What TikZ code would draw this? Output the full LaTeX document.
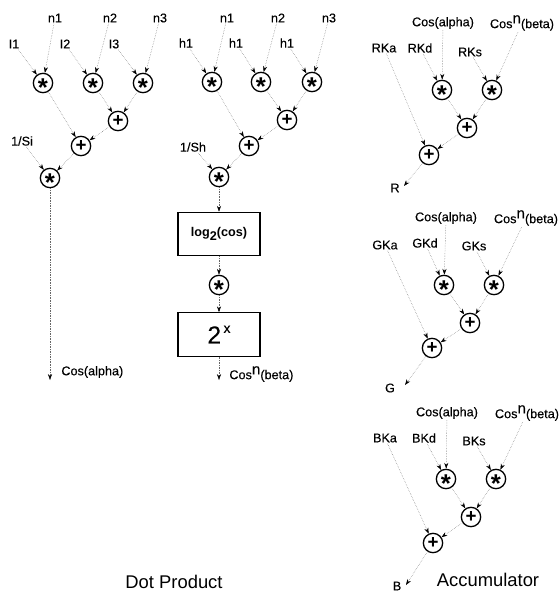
\documentclass[tikz,border=0pt]{standalone}
\usepackage{fontspec}
\setmainfont{Liberation Sans}
\newfontfamily\lblfont[FakeBold=0.2]{Liberation Sans}
\usetikzlibrary{arrows.meta,positioning}
\newcommand{\opstar}{\smash{\raisebox{-0.52em}{*}}}
\newcommand{\cosn}{Cos\raisebox{4pt}{\fontsize{13}{13}\selectfont n}(beta)}

\begin{document}
\begin{tikzpicture}[
			x=0.03cm, y=-0.03cm,
			>={Stealth[length=5pt,width=3.5pt,black]},
			font=\lblfont\fontsize{10.8}{12}\selectfont,
			opnode/.style={
				circle, draw=black, line width=1.1pt, fill=white,
				minimum size=0.58cm, inner sep=0pt,
				font=\normalfont\bfseries\fontsize{16}{16}\selectfont
			},
			starnode/.style={
				opnode,
				font=\normalfont\bfseries\fontsize{22}{22}\selectfont
			},
			boxnode/.style={
				rectangle, draw=black, line width=1.1pt,
				minimum width=2.46cm, minimum height=1.3cm, inner sep=0pt
			},
			lbl/.style={inner sep=1pt},
			title/.style={font=\normalfont\fontsize{15.7}{18}\selectfont},
			arr/.style={->, densely dotted, thin, black!60}
			]
			\useasboundingbox (0,0) rectangle (559,594);
			
			%% -- Dot product, light ------------------------------------------
			\node[lbl] (ln1) at (55,18) {n1};
			\node[lbl] (ln2) at (110,18) {n2};
			\node[lbl] (ln3) at (160,18) {n3};
			\node[lbl] (li1) at (14,44) {I1};
			\node[lbl] (li2) at (65,44) {I2};
			\node[lbl] (li3) at (114,44) {I3};
			\node[lbl] (lsi) at (22,141) {1/Si};
			
			\node[starnode] (ls1) at (43,83) {\opstar};
			\node[starnode] (ls2) at (93,83) {\opstar};
			\node[starnode] (ls3) at (143,83) {\opstar};
			\node[opnode] (lp1) at (118,121) {+};
			\node[opnode] (lp2) at (81,146) {+};
			\node[starnode] (ls4) at (50,178) {\opstar};
			
			\coordinate (lend) at (50,380);
			\node[lbl, anchor=west] (lout) at (60,372) {Cos(alpha)};
			
			\draw[arr] (li1) -- (ls1);
			\draw[arr] (ln1) -- (ls1);
			\draw[arr] (li2) -- (ls2);
			\draw[arr] (ln2) -- (ls2);
			\draw[arr] (li3) -- (ls3);
			\draw[arr] (ln3) -- (ls3);
			\draw[arr] (ls2) -- (lp1);
			\draw[arr] (ls3) -- (lp1);
			\draw[arr] (ls1) -- (lp2);
			\draw[arr] (lp1) -- (lp2);
			\draw[arr] (lsi) -- (ls4);
			\draw[arr] (lp2) -- (ls4);
			\draw[arr] (ls4) -- (lend);
			
			%% -- Dot product, half vector ------------------------------------
			\node[lbl] (hn1) at (227,18) {n1};
			\node[lbl] (hn2) at (278,18) {n2};
			\node[lbl] (hn3) at (329,18) {n3};
			\node[lbl] (hh1) at (186,43) {h1};
			\node[lbl] (hh2) at (236,43) {h1};
			\node[lbl] (hh3) at (287,43) {h1};
			\node[lbl] (hsh) at (193,147) {1/Sh};
			
			\node[starnode] (hs1) at (212,82) {\opstar};
			\node[starnode] (hs2) at (261,82) {\opstar};
			\node[starnode] (hs3) at (312,82) {\opstar};
			\node[opnode] (hp1) at (287,120) {+};
			\node[opnode] (hp2) at (249,146) {+};
			\node[starnode] (hs4) at (219,177) {\opstar};
			
			\node[boxnode, font=\normalfont\bfseries\fontsize{10.8}{12}\selectfont] (log) at (219,234) {log\raisebox{-4pt}{2}(cos)};
			\node[starnode] (hs5) at (219,285) {\opstar};
			\node[boxnode, font=\lblfont\fontsize{21}{21}\selectfont] (pow) at (219,334.5) {2\raisebox{9pt}{\fontsize{12}{12}\selectfont\,x}};
			
			\coordinate (hend) at (219,380);
			\node[lbl, anchor=west] (hout) at (228,374) {\cosn};
			
			\draw[arr] (hh1) -- (hs1);
			\draw[arr] (hn1) -- (hs1);
			\draw[arr] (hh2) -- (hs2);
			\draw[arr] (hn2) -- (hs2);
			\draw[arr] (hh3) -- (hs3);
			\draw[arr] (hn3) -- (hs3);
			\draw[arr] (hs2) -- (hp1);
			\draw[arr] (hs3) -- (hp1);
			\draw[arr] (hs1) -- (hp2);
			\draw[arr] (hp1) -- (hp2);
			\draw[arr] (hsh) -- (hs4);
			\draw[arr] (hp2) -- (hs4);
			\draw[arr] (hs4) -- (log);
			\draw[arr] (log) -- (hs5);
			\draw[arr] (hs5) -- (pow);
			\draw[arr] (pow) -- (hend);
			
			\node[title] (dot) at (174,582) {Dot Product};
			
			%% -- Accumulator, red --------------------------------------------
			\node[lbl] (rca) at (443,23) {Cos(alpha)};
			\node[lbl] (rcb) at (522,23) {\cosn};
			\node[lbl] (rka) at (384,48) {RKa};
			\node[lbl] (rkd) at (420,48) {RKd};
			\node[lbl] (rks) at (470,52) {RKs};
			
			\node[starnode] (rs1) at (442,90) {\opstar};
			\node[starnode] (rs2) at (492,90) {\opstar};
			\node[opnode] (rp1) at (467,128) {+};
			\node[opnode] (rp2) at (429,155) {+};
			\coordinate (rend) at (404,186);
			\node[lbl] (rout) at (395,188) {R};
			
			\draw[arr] (rkd) -- (rs1);
			\draw[arr] (rca) -- (rs1);
			\draw[arr] (rks) -- (rs2);
			\draw[arr] (rcb) -- (rs2);
			\draw[arr] (rs1) -- (rp1);
			\draw[arr] (rs2) -- (rp1);
			\draw[arr] (rka) -- (rp2);
			\draw[arr] (rp1) -- (rp2);
			\draw[arr] (rp2) -- (rend);
			
			%% -- Accumulator, green ------------------------------------------
			\node[lbl] (gca) at (446,218) {Cos(alpha)};
			\node[lbl] (gcb) at (526,218) {\cosn};
			\node[lbl] (gka) at (385,245) {GKa};
			\node[lbl] (gkd) at (425,243) {GKd};
			\node[lbl] (gks) at (474,246) {GKs};
			
			\node[starnode] (gs1) at (444,285) {\opstar};
			\node[starnode] (gs2) at (494,285) {\opstar};
			\node[opnode] (gp1) at (470,323) {+};
			\node[opnode] (gp2) at (432,348) {+};
			\coordinate (gend) at (405,385);
			\node[lbl] (gout) at (390,388) {G};
			
			\draw[arr] (gkd) -- (gs1);
			\draw[arr] (gca) -- (gs1);
			\draw[arr] (gks) -- (gs2);
			\draw[arr] (gcb) -- (gs2);
			\draw[arr] (gs1) -- (gp1);
			\draw[arr] (gs2) -- (gp1);
			\draw[arr] (gka) -- (gp2);
			\draw[arr] (gp1) -- (gp2);
			\draw[arr] (gp2) -- (gend);
			
			%% -- Accumulator, blue -------------------------------------------
			\node[lbl] (bca) at (447,413) {Cos(alpha)};
			\node[lbl] (bcb) at (527,413) {\cosn};
			\node[lbl] (bka) at (385,438) {BKa};
			\node[lbl] (bkd) at (424,438) {BKd};
			\node[lbl] (bks) at (474,441) {BKs};
			
			\node[starnode] (bs1) at (446,479) {\opstar};
			\node[starnode] (bs2) at (496,479) {\opstar};
			\node[opnode] (bp1) at (471,517) {+};
			\node[opnode] (bp2) at (433,543) {+};
			\coordinate (bend) at (406,585);
			\node[lbl] (bout) at (397,586) {B};
			
			\draw[arr] (bkd) -- (bs1);
			\draw[arr] (bca) -- (bs1);
			\draw[arr] (bks) -- (bs2);
			\draw[arr] (bcb) -- (bs2);
			\draw[arr] (bs1) -- (bp1);
			\draw[arr] (bs2) -- (bp1);
			\draw[arr] (bka) -- (bp2);
			\draw[arr] (bp1) -- (bp2);
			\draw[arr] (bp2) -- (bend);
			
			\node[title] (acc) at (488,580) {Accumulator};
			
		\end{tikzpicture}
\end{document}
